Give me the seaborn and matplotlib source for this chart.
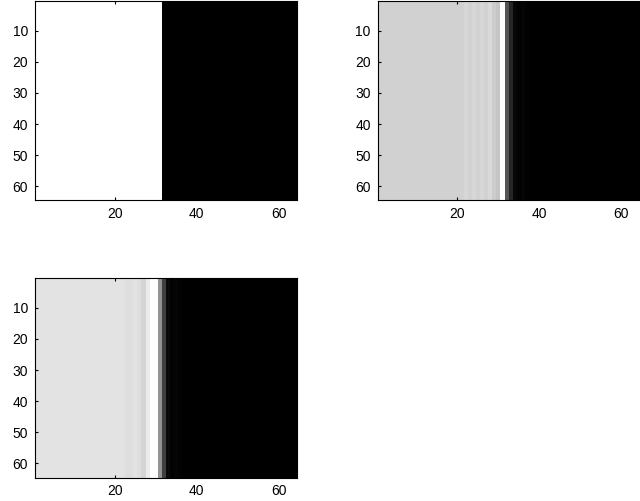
import numpy as np
import seaborn as sns
import matplotlib
matplotlib.use("Agg")
import matplotlib.pyplot as plt

# column profiles (gray level per column, 64 columns), every row is the same
profile_a = [1.0] * 31 + [0.0] * 33

profile_b = [0.82, 0.82, 0.82, 0.82, 0.82, 0.82, 0.82, 0.82, 0.82, 0.82,
             0.82, 0.82, 0.82, 0.82, 0.82, 0.82, 0.82, 0.82, 0.82, 0.82,
             0.82, 0.84, 0.82, 0.84, 0.82, 0.84, 0.82, 0.85, 0.80, 0.77,
             1.00, 0.33, 0.15, 0.03, 0.01, 0.02, 0.01, 0.0, 0.0, 0.0,
             0.0, 0.0, 0.0, 0.0, 0.0, 0.0, 0.0, 0.0, 0.0, 0.0,
             0.0, 0.0, 0.0, 0.0, 0.0, 0.0, 0.0, 0.0, 0.0, 0.0,
             0.0, 0.0, 0.0, 0.0]

profile_c = [0.89, 0.89, 0.89, 0.89, 0.89, 0.89, 0.89, 0.89, 0.89, 0.89,
             0.89, 0.89, 0.89, 0.89, 0.89, 0.89, 0.89, 0.89, 0.89, 0.89,
             0.89, 0.89, 0.87, 0.87, 0.89, 0.87, 0.83, 0.92, 1.00, 1.00,
             0.58, 0.25, 0.04, 0.01, 0.02, 0.01, 0.0, 0.0, 0.0, 0.0,
             0.0, 0.0, 0.0, 0.0, 0.0, 0.0, 0.0, 0.0, 0.0, 0.0,
             0.0, 0.0, 0.0, 0.0, 0.0, 0.0, 0.0, 0.0, 0.0, 0.0,
             0.0, 0.0, 0.0, 0.0]

n_rows = 64
x_ticks = [20, 40, 60]
y_ticks = [10, 20, 30, 40, 50, 60]

plt.rcParams['font.family'] = ['Liberation Sans', 'DejaVu Sans']
plt.rcParams['font.size'] = 10

fig = plt.figure(figsize=(6.4, 5.01), dpi=100)
w, h = 0.4094, 0.398
positions = [[0.0547, 0.600, w, h],
             [0.590, 0.600, w, h],
             [0.0547, 0.0469, w, h]]


def draw(pos, profile):
    ax = fig.add_axes(pos)
    img = np.tile(np.array(profile), (n_rows, 1))
    sns.heatmap(img, ax=ax, cmap="gray", vmin=min(profile), vmax=max(profile),
                cbar=False, xticklabels=False, yticklabels=False)
    ax.set_xticks([t - 0.5 for t in x_ticks])
    ax.set_xticklabels([str(t) for t in x_ticks])
    ax.set_yticks([t - 0.5 for t in y_ticks])
    ax.set_yticklabels([str(t) for t in y_ticks], rotation=0)
    ax.tick_params(direction="in", length=2.5, width=0.8, top=True, right=True,
                   labelsize=10, pad=5, colors="black")
    for s in ax.spines.values():
        s.set_visible(True)
        s.set_linewidth(0.8)
        s.set_color("black")
    return ax


draw(positions[0], profile_a)
draw(positions[1], profile_b)
draw(positions[2], profile_c)

fig.savefig("out.png", dpi=100)
